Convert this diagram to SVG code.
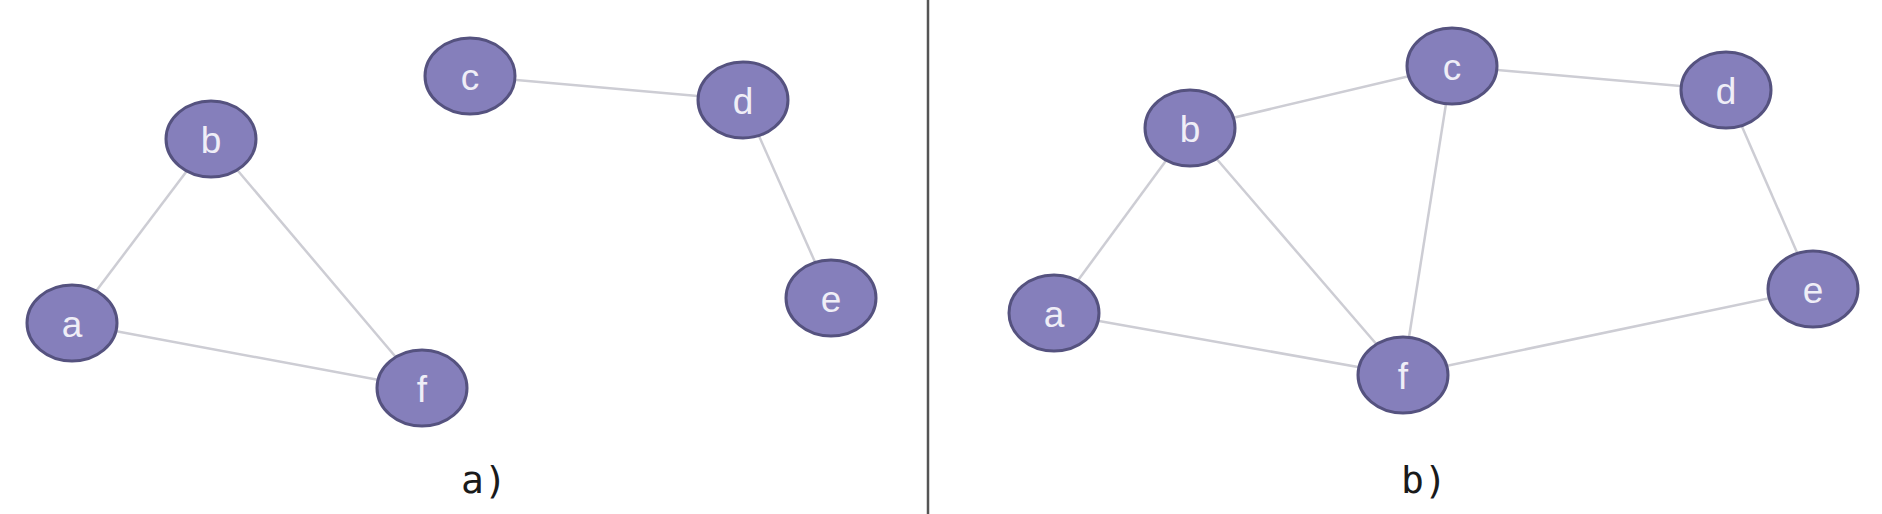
<svg xmlns="http://www.w3.org/2000/svg" width="1882" height="514" viewBox="0 0 1882 514">
<style>
.edge{stroke:#cdcdd4;stroke-width:2.5;fill:none}
.node ellipse{fill:#857fbb;stroke:#55527f;stroke-width:3}
.node text{font-family:"Liberation Sans",Arial,sans-serif;font-size:37px;fill:#efeef7;text-anchor:middle}
.cap{font-family:"DejaVu Sans Mono",monospace;font-size:38px;fill:#1a1a1a;text-anchor:middle}
</style>
<rect width="1882" height="514" fill="#ffffff"/>
<line x1="928" y1="0" x2="928" y2="514" stroke="#555555" stroke-width="2.5"/>
<g id="connectors">
<line class="edge" x1="72" y1="323" x2="211" y2="139"/>
<line class="edge" x1="211" y1="139" x2="422" y2="388"/>
<line class="edge" x1="72" y1="323" x2="422" y2="388"/>
<line class="edge" x1="470" y1="76" x2="743" y2="100"/>
<line class="edge" x1="743" y1="100" x2="831" y2="298"/>
<line class="edge" x1="1054" y1="313" x2="1190" y2="128"/>
<line class="edge" x1="1054" y1="313" x2="1403" y2="375"/>
<line class="edge" x1="1190" y1="128" x2="1452" y2="66"/>
<line class="edge" x1="1190" y1="128" x2="1403" y2="375"/>
<line class="edge" x1="1452" y1="66" x2="1403" y2="375"/>
<line class="edge" x1="1452" y1="66" x2="1726" y2="90"/>
<line class="edge" x1="1726" y1="90" x2="1813" y2="289"/>
<line class="edge" x1="1403" y1="375" x2="1813" y2="289"/>
</g>
<g id="left-a" class="node"><ellipse cx="72" cy="323" rx="45" ry="38"/><text x="72" y="337">a</text></g>
<g id="left-b" class="node"><ellipse cx="211" cy="139" rx="45" ry="38"/><text x="211" y="153">b</text></g>
<g id="left-c" class="node"><ellipse cx="470" cy="76" rx="45" ry="38"/><text x="470" y="90">c</text></g>
<g id="left-d" class="node"><ellipse cx="743" cy="100" rx="45" ry="38"/><text x="743" y="114">d</text></g>
<g id="left-e" class="node"><ellipse cx="831" cy="298" rx="45" ry="38"/><text x="831" y="312">e</text></g>
<g id="left-f" class="node"><ellipse cx="422" cy="388" rx="45" ry="38"/><text x="422" y="402">f</text></g>
<g id="right-a" class="node"><ellipse cx="1054" cy="313" rx="45" ry="38"/><text x="1054" y="327">a</text></g>
<g id="right-b" class="node"><ellipse cx="1190" cy="128" rx="45" ry="38"/><text x="1190" y="142">b</text></g>
<g id="right-c" class="node"><ellipse cx="1452" cy="66" rx="45" ry="38"/><text x="1452" y="80">c</text></g>
<g id="right-d" class="node"><ellipse cx="1726" cy="90" rx="45" ry="38"/><text x="1726" y="104">d</text></g>
<g id="right-e" class="node"><ellipse cx="1813" cy="289" rx="45" ry="38"/><text x="1813" y="303">e</text></g>
<g id="right-f" class="node"><ellipse cx="1403" cy="375" rx="45" ry="38"/><text x="1403" y="389">f</text></g>
<text class="cap" x="484" y="493">a)</text>
<text class="cap" x="1424" y="493">b)</text>
</svg>
